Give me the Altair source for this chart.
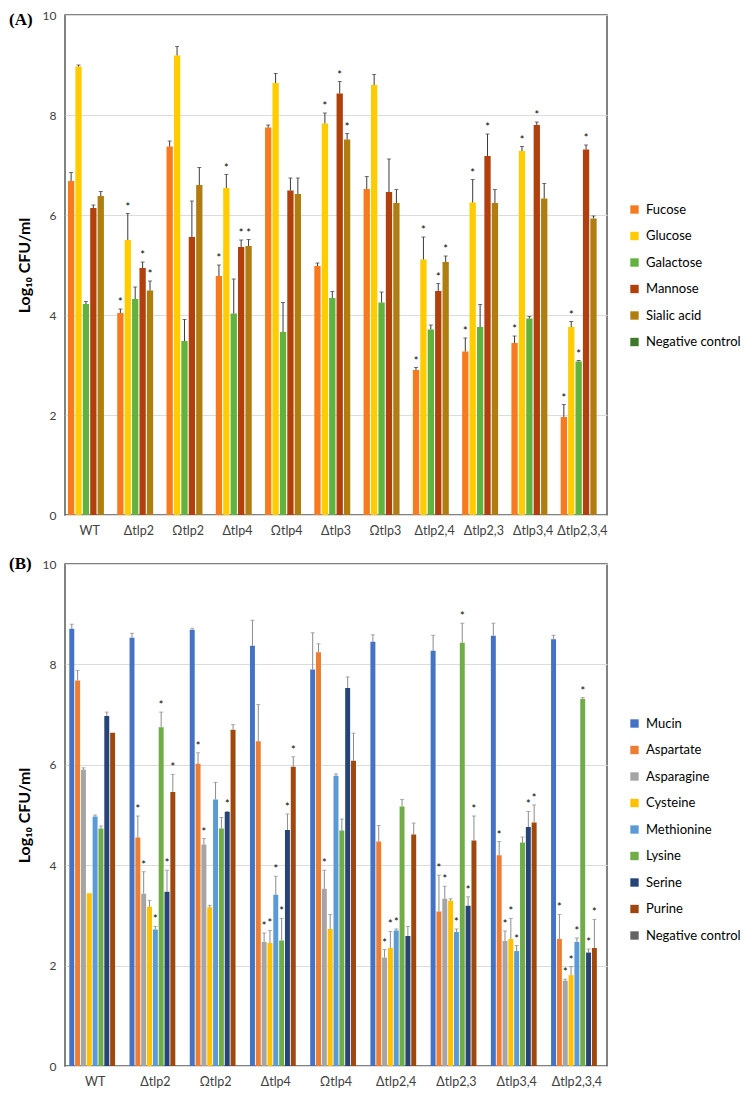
import altair as alt
import pandas as pd

# ---------------- Panel A data ----------------
groups_a = ["WT", "Δtlp2", "Ωtlp2", "Δtlp4", "Ωtlp4", "Δtlp3", "Ωtlp3",
            "Δtlp2,4", "Δtlp2,3", "Δtlp3,4", "Δtlp2,3,4"]
series_a = ["Fucose", "Glucose", "Galactose", "Mannose", "Sialic acid", "Negative control"]
colors_a = ["#F77B1E", "#FFCC00", "#62B23E", "#B2400C", "#B07D10", "#3C7A2A"]

fucose = [6.68, 4.04, 7.37, 4.78, 7.75, 4.98, 6.52, 2.90, 3.27, 3.44, 1.96]
fucose_up = [6.85, 4.12, 7.48, 5.00, 7.80, 5.04, 6.77, 2.95, 3.54, 3.58, 2.21]
fucose_star = [0, 1, 0, 1, 0, 0, 0, 1, 1, 1, 1]

glucose = [8.97, 5.50, 9.19, 6.54, 8.64, 7.83, 8.60, 5.11, 6.25, 7.28, 3.76]
glucose_up = [9.00, 6.03, 9.37, 6.81, 8.83, 8.04, 8.81, 5.56, 6.71, 7.37, 3.87]
glucose_star = [0, 1, 0, 1, 0, 1, 0, 1, 1, 1, 1]

galactose = [4.22, 4.32, 3.48, 4.03, 3.66, 4.34, 4.25, 3.71, 3.76, 3.93, 3.07]
galactose_up = [4.27, 4.56, 3.91, 4.72, 4.25, 4.47, 4.46, 3.80, 4.21, 3.97, 3.09]
galactose_star = [0, 0, 0, 0, 0, 0, 0, 0, 0, 0, 1]

mannose = [6.14, 4.94, 5.56, 5.36, 6.49, 8.43, 6.46, 4.48, 7.18, 7.80, 7.31]
mannose_up = [6.20, 5.06, 6.28, 5.50, 6.74, 8.67, 7.12, 4.63, 7.62, 7.86, 7.40]
mannose_star = [0, 1, 0, 1, 0, 1, 0, 1, 1, 1, 1]

sialic = [6.38, 4.49, 6.60, 5.38, 6.42, 7.51, 6.24, 5.06, 6.24, 6.33, 5.93]
sialic_up = [6.47, 4.68, 6.95, 5.51, 6.74, 7.63, 6.51, 5.18, 6.51, 6.63, 5.98]
sialic_star = [0, 1, 0, 1, 0, 1, 0, 1, 0, 0, 0]

negctl_a = [0] * 11

# ---------------- Panel B data ----------------
groups_b = ["WT", "Δtlp2", "Ωtlp2", "Δtlp4", "Ωtlp4", "Δtlp2,4", "Δtlp2,3",
            "Δtlp3,4", "Δtlp2,3,4"]
series_b = ["Mucin", "Aspartate", "Asparagine", "Cysteine", "Methionine",
            "Lysine", "Serine", "Purine", "Negative control"]
colors_b = ["#4472C4", "#ED7D31", "#A5A5A5", "#FFC000", "#5B9BD5",
            "#70AD47", "#264478", "#9E480E", "#636363"]

mucin = [8.71, 8.53, 8.69, 8.37, 7.90, 8.45, 8.27, 8.57, 8.50]
mucin_up = [8.80, 8.62, 8.72, 8.88, 8.63, 8.59, 8.58, 8.82, 8.58]
mucin_star = [0, 0, 0, 0, 0, 0, 0, 0, 0]

aspartate = [7.68, 4.55, 6.02, 6.47, 8.24, 4.47, 3.08, 4.20, 2.53]
aspartate_up = [7.88, 4.98, 6.24, 7.20, 8.41, 4.79, 3.80, 4.47, 3.02]
aspartate_star = [0, 1, 1, 0, 0, 0, 1, 1, 1]

asparagine = [5.90, 3.43, 4.41, 2.47, 3.53, 2.16, 3.33, 2.49, 1.70]
asparagine_up = [5.94, 3.87, 4.53, 2.65, 3.90, 2.32, 3.58, 2.69, 1.73]
asparagine_star = [0, 1, 1, 1, 1, 1, 1, 1, 1]

cysteine = [3.44, 3.17, 3.16, 2.45, 2.73, 2.35, 3.29, 2.53, 1.81]
cysteine_up = [3.44, 3.30, 3.20, 2.70, 3.02, 2.68, 3.33, 2.94, 1.98]
cysteine_star = [0, 0, 0, 1, 0, 1, 0, 1, 1]

methionine = [4.97, 2.72, 5.31, 3.41, 5.78, 2.70, 2.67, 2.29, 2.47]
methionine_up = [5.00, 2.78, 5.65, 3.78, 5.82, 2.73, 2.73, 2.40, 2.55]
methionine_star = [0, 1, 0, 1, 0, 1, 1, 1, 1]

lysine = [4.73, 6.75, 4.73, 2.50, 4.69, 5.17, 8.43, 4.45, 7.31]
lysine_up = [4.78, 7.05, 4.95, 2.94, 4.92, 5.31, 8.82, 4.56, 7.34]
lysine_star = [0, 1, 0, 1, 0, 0, 1, 0, 1]

serine = [6.97, 3.47, 5.06, 4.70, 7.53, 2.59, 3.19, 4.76, 2.26]
serine_up = [7.05, 3.90, 5.07, 5.02, 7.75, 2.78, 3.37, 5.07, 2.33]
serine_star = [0, 1, 1, 1, 0, 0, 1, 1, 1]

purine = [6.64, 5.46, 6.70, 5.96, 6.08, 4.61, 4.49, 4.85, 2.35]
purine_up = [6.64, 5.81, 6.80, 6.16, 6.63, 4.84, 4.98, 5.20, 2.92]
purine_star = [0, 1, 0, 1, 0, 0, 1, 1, 1]

negctl_b = [0] * 9

FONT = "Lato"


def long_frame(groups, series, vals, ups, stars):
    rows = []
    for s, v, u, st in zip(series, vals, ups, stars):
        for g, vv, uu, ss in zip(groups, v, u, st):
            rows.append({"group": g, "series": s, "value": vv, "upper": uu, "star": ss})
    return pd.DataFrame(rows)


df_a = long_frame(
    groups_a, series_a,
    [fucose, glucose, galactose, mannose, sialic, negctl_a],
    [fucose_up, glucose_up, galactose_up, mannose_up, sialic_up, negctl_a],
    [fucose_star, glucose_star, galactose_star, mannose_star, sialic_star, negctl_a],
)
df_b = long_frame(
    groups_b, series_b,
    [mucin, aspartate, asparagine, cysteine, methionine, lysine, serine, purine, negctl_b],
    [mucin_up, aspartate_up, asparagine_up, cysteine_up, methionine_up, lysine_up,
     serine_up, purine_up, negctl_b],
    [mucin_star, aspartate_star, asparagine_star, cysteine_star, methionine_star,
     lysine_star, serine_star, purine_star, negctl_b],
)


def panel(df, groups, series, colors, err_color, label, label_y, w, h, pad_inner,
          legend_y):
    ysc = alt.Scale(domain=[0, 10], nice=False)
    base = alt.Chart(df).encode(
        x=alt.X("group:N", sort=groups, title=None,
                scale=alt.Scale(paddingInner=pad_inner, paddingOuter=pad_inner / 2),
                axis=alt.Axis(labelAngle=0, ticks=False, domain=False, grid=False,
                              labelFont=FONT, labelFontSize=12.5, labelColor="#404040",
                              labelPadding=9)),
        xOffset=alt.XOffset("series:N", sort=series,
                            scale=alt.Scale(paddingInner=0.15, paddingOuter=0)),
    )
    bars = base.mark_bar().encode(
        y=alt.Y("value:Q", scale=ysc, title="Log₁₀ CFU/ml",
                axis=alt.Axis(values=[0, 2, 4, 6, 8, 10], ticks=False, domain=False,
                              grid=True, gridColor="#DCDCDC", gridWidth=1,
                              labelFont=FONT, labelFontSize=12, labelColor="#404040",
                              labelPadding=9,
                              titleFont=FONT, titleFontSize=16, titleFontWeight="bold",
                              titleColor="#000000", titleX=-41, titleY=h / 2,
                              titleAngle=270, titleAlign="center",
                              titleBaseline="middle")),
        color=alt.Color("series:N", sort=series,
                        scale=alt.Scale(domain=series, range=colors),
                        legend=alt.Legend(title=None, orient="none",
                                          legendX=w + 21, legendY=legend_y,
                                          symbolType="square", symbolSize=70,
                                          symbolStrokeWidth=0, labelFont=FONT,
                                          labelFontSize=13, labelColor="#000000",
                                          rowPadding=12.5, labelOffset=5)),
    )
    has_err = base.transform_filter("datum.upper > datum.value")
    rules = has_err.mark_rule(color=err_color, strokeWidth=1).encode(
        y=alt.Y("value:Q", scale=ysc), y2="upper:Q")
    caps = has_err.mark_tick(color=err_color, orient="horizontal", size=4,
                             thickness=1).encode(y=alt.Y("upper:Q", scale=ysc))
    stars = base.transform_filter("datum.star == 1").mark_text(
        text="*", fontSize=11, font=FONT, color="#000000", baseline="alphabetic",
        dy=-3).encode(y=alt.Y("upper:Q", scale=ysc))
    lab = alt.Chart(pd.DataFrame({"lab": [label]})).mark_text(
        font="Liberation Serif", fontWeight="bold", fontSize=17, align="left",
        baseline="middle", color="#000000").encode(
        text="lab:N", x=alt.value(-56), y=alt.value(label_y))
    return alt.layer(bars, rules, caps, stars, lab).properties(width=w, height=h)


W = 542
panel_a = panel(df_a, groups_a, series_a, colors_a, "#3A3A3A", "(A)", 5, W, 500, 0.12, 188)
panel_b = panel(df_b, groups_b, series_b, colors_b, "#8C8C8C", "(B)", 0, W, 502, 0.143, 153)

chart = alt.vconcat(panel_a, panel_b, spacing=16).resolve_scale(
    x="independent", y="independent", color="independent", xOffset="independent"
).resolve_legend(color="independent").configure_view(
    stroke="#595959", strokeWidth=1.5
).properties(background="white", padding=0)

chart.save("out.html", embed_options={"renderer": "svg", "actions": False})
